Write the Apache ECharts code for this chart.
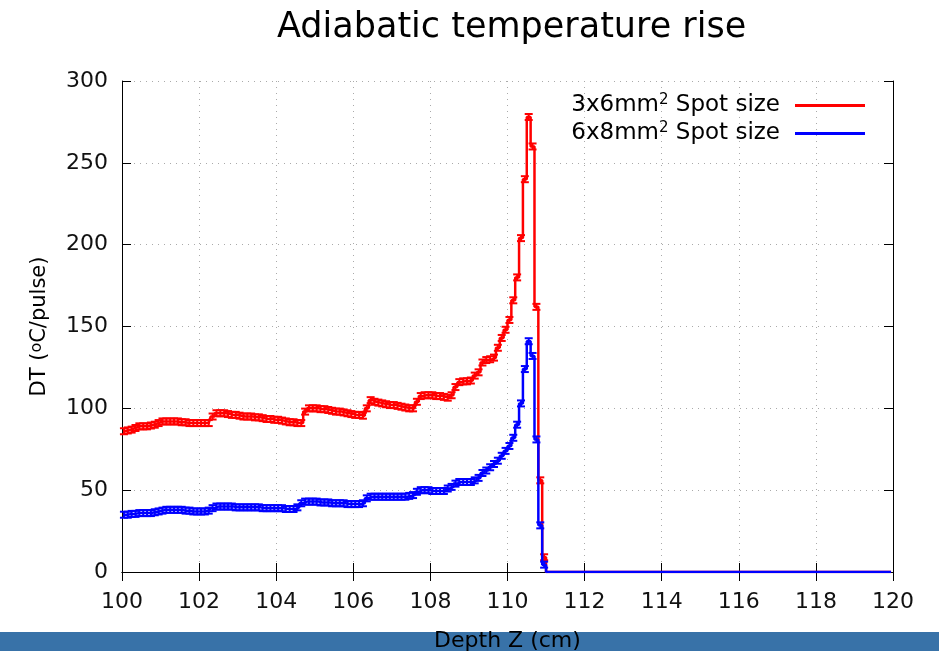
<!DOCTYPE html>
<html><head><meta charset="utf-8">
<script src="https://cdn.jsdelivr.net/npm/echarts@6/dist/echarts.min.js"></script>
<style>html,body{margin:0;padding:0;background:#fff}#c{width:939px;height:651px}</style>
</head><body><div id="c"></div>
<script>
// Histogram bins: 0.1 cm wide, starting at 100 cm (200 bins to 120 cm)
const binStart = 100;
const binWidth = 0.1;
const xTicks = [100,102,104,106,108,110,112,114,116,118,120];
const yTicks = [0,50,100,150,200,250,300];

// 3x6 mm^2 spot size (red)
const spot3x6 = [
  86,86.5,87,88,89,89,89,89.5,90,91,
  92,92,92,92,92,91.5,91.5,91,91,91,
  91,91,91,95,97,97,97,96.5,96,96,
  95.5,95,95,95,94.5,94.5,94,93.5,93.5,93,
  93,92.5,92,91.5,91.5,91,91,98,100,100,
  100,99.5,99.5,99,98.5,98,98,97.5,97,96.5,
  96,96,95.5,100,105,104,103.5,103,102.5,102,
  102,101.5,101,100.5,100,100,104,107.5,108,108,
  108,107.5,107.5,107,106.5,108,113,116,116.5,116.5,
  117,120,122,128,129.5,130,131,137,143,148,
  154,166,180,204,240,278,260,162,56,9,
  0,0,0,0,0,0,0,0,0,0, 0,0,0,0,0,0,0,0,0,0,
  0,0,0,0,0,0,0,0,0,0, 0,0,0,0,0,0,0,0,0,0,
  0,0,0,0,0,0,0,0,0,0, 0,0,0,0,0,0,0,0,0,0,
  0,0,0,0,0,0,0,0,0,0, 0,0,0,0,0,0,0,0,0,0,
  0,0,0,0,0,0,0,0,0,0
];
// 6x8 mm^2 spot size (blue)
const spot6x8 = [
  35,35,35.5,35.5,36,36,36,36,36.5,37,
  37.5,38,38,38,38,38,37.5,37.5,37,37,
  37,37,37.5,39,40,40,40,40,40,39.5,
  39.5,39.5,39.5,39.5,39.5,39.5,39,39,39,39,
  39,39,38.5,38.5,38.5,39.5,42,43,43,43,
  43,42.5,42.5,42.5,42,42,42,42,41.5,41.5,
  41.5,41.5,42,45,46,46,46,46,46,46,
  46,46,46,46,46.5,47,49,50,50,50,
  49.5,49.5,49.5,49.5,51,52,54,55,55,55,
  55,56,57.5,60.5,62,64,66,68,71,74,
  77,82,90,103,124,141,132,81,28.5,4.5,
  0,0,0,0,0,0,0,0,0,0, 0,0,0,0,0,0,0,0,0,0,
  0,0,0,0,0,0,0,0,0,0, 0,0,0,0,0,0,0,0,0,0,
  0,0,0,0,0,0,0,0,0,0, 0,0,0,0,0,0,0,0,0,0,
  0,0,0,0,0,0,0,0,0,0, 0,0,0,0,0,0,0,0,0,0,
  0,0,0,0,0,0,0,0,0,0
];

const seriesNames = ['3x6mm2 Spot size', '6x8mm2 Spot size'];
const colors = ['#ff0000', '#0000ff'];

function toPoints(vals) {
  return vals.map((v, i) => [+(binStart + binWidth * (i + 0.5)).toFixed(2), v]);
}

function errRender(color) {
  return function (params, api) {
    const v = api.value(1);
    if (!v) return null;
    const p = api.coord([api.value(0), v]);
    const h = 3, w = 4;
    const st = { stroke: color, lineWidth: 2 };
    return {
      type: 'group',
      children: [
        { type: 'line', shape: { x1: p[0], y1: p[1] - h, x2: p[0], y2: p[1] + h }, style: st },
        { type: 'line', shape: { x1: p[0] - w, y1: p[1] - h, x2: p[0] + w, y2: p[1] - h }, style: st },
        { type: 'line', shape: { x1: p[0] - w, y1: p[1] + h, x2: p[0] + w, y2: p[1] + h }, style: st }
      ]
    };
  };
}

const font = 'DejaVu Sans';
const chart = echarts.init(document.getElementById('c'), null, { renderer: 'canvas' });
const datasets = [spot3x6, spot6x8];
const series = [];
datasets.forEach((d, k) => {
  series.push({
    name: seriesNames[k], type: 'line', step: 'middle', data: toPoints(d),
    showSymbol: false, symbol: 'none', lineStyle: { color: colors[k], width: 2.5 },
    itemStyle: { color: colors[k] }, z: 3 + k, animation: false
  });
  series.push({
    name: seriesNames[k] + ' err', type: 'custom', renderItem: errRender(colors[k]),
    data: toPoints(d), z: 3 + k, animation: false, silent: true
  });
});

const axisCommon = {
  type: 'value',
  axisLine: { show: true, lineStyle: { color: '#000', width: 1 } },
  axisTick: { show: true, inside: true, length: 9, lineStyle: { color: '#000' } }
};

chart.setOption({
  animation: false,
  backgroundColor: '#fff',
  title: {
    text: 'Adiabatic temperature rise', left: 272, top: 5,
    textStyle: { fontFamily: font, fontSize: 35, fontWeight: 'normal', color: '#000' }
  },
  legend: {
    data: seriesNames, orient: 'vertical', right: 69, top: 88, align: 'right',
    icon: 'rect', itemWidth: 70, itemHeight: 3, itemGap: 4,
    formatter: n => n.replace(/^(.*)mm2(.*)$/, '{n|$1mm}{sup|2}{n|$2}'),
    textStyle: {
      fontFamily: font, fontSize: 23, color: '#000', padding: [0, 10, 0, 0],
      rich: {
        n: { fontFamily: font, fontSize: 23, color: '#000', lineHeight: 25 },
        sup: { fontFamily: font, fontSize: 15, color: '#000', verticalAlign: 'top', lineHeight: 15 }
      }
    }
  },
  grid: { left: 122, right: 46, top: 81, bottom: 79, containLabel: false, outerBoundsMode: 'none' },
  xAxis: [
    Object.assign({}, axisCommon, {
      min: xTicks[0], max: xTicks[xTicks.length - 1], interval: 2, position: 'bottom',
      name: 'Depth Z (cm)', nameLocation: 'middle', nameGap: 58,
      nameTextStyle: { fontFamily: font, fontSize: 22, color: '#000' },
      axisLabel: { fontFamily: font, fontSize: 22, color: '#111', margin: 19 },
      splitLine: { show: true, lineStyle: { color: '#aaa', type: [1, 5], width: 1 } }
    }),
    Object.assign({}, axisCommon, {
      min: xTicks[0], max: xTicks[xTicks.length - 1], interval: 2, position: 'top',
      axisLabel: { show: false }, splitLine: { show: false }
    })
  ],
  yAxis: [
    Object.assign({}, axisCommon, {
      min: yTicks[0], max: yTicks[yTicks.length - 1], interval: 50, position: 'left',
      name: 'DT ({sup|o}C/pulse)', nameLocation: 'middle', nameGap: 72, nameRotate: 90,
      nameTextStyle: {
        fontFamily: font, fontSize: 21, color: '#000',
        rich: { sup: { fontFamily: font, fontSize: 16, color: '#000', verticalAlign: 'top', lineHeight: 16 } }
      },
      axisLabel: { fontFamily: font, fontSize: 22, color: '#111', margin: 14 },
      splitLine: { show: true, lineStyle: { color: '#aaa', type: [1, 5], width: 1 } }
    }),
    Object.assign({}, axisCommon, {
      min: yTicks[0], max: yTicks[yTicks.length - 1], interval: 50, position: 'right',
      axisLabel: { show: false }, splitLine: { show: false }
    })
  ],
  graphic: [
    { type: 'rect', left: 0, top: 632, z: -100, silent: true,
      shape: { width: 939, height: 19 }, style: { fill: '#3872a8' } },
    { type: 'text', left: 432, top: -21, silent: true,
      style: { text: 'Depth Z (cm)', fontFamily: font, fontSize: 22, fill: '#000' } }
  ],
  series: series
});
</script></body></html>
